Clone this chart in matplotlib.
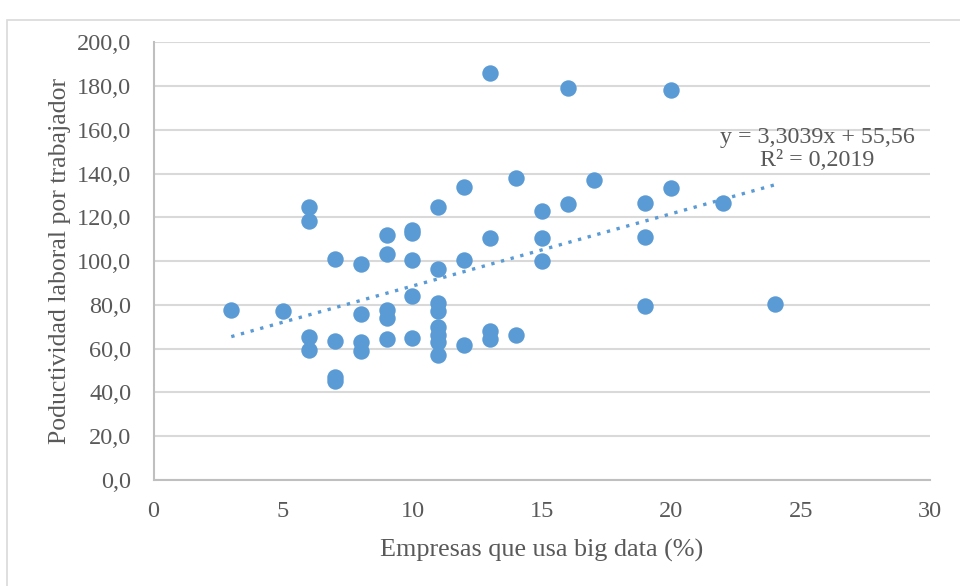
import matplotlib
matplotlib.use("Agg")
import matplotlib.pyplot as plt
from matplotlib.patches import Rectangle
import numpy as np

# Data
big_data_pct = [3, 5,
                6, 6, 6, 6,
                7, 7, 7, 7,
                8, 8, 8, 8,
                9, 9, 9, 9, 9,
                10, 10, 10, 10, 10,
                11, 11, 11, 11, 11, 11, 11, 11,
                12, 12, 12,
                13, 13, 13, 13,
                14, 14,
                15, 15, 15,
                16, 16,
                17,
                19, 19, 19,
                20, 20,
                22,
                24]
productividad = [77.8, 77.0,
                 124.8, 118.2, 65.3, 59.5,
                 101.1, 63.3, 47.2, 45.4,
                 98.7, 75.8, 63.0, 58.9,
                 111.8, 103.4, 77.8, 74.0, 64.5,
                 114.4, 112.9, 100.4, 84.2, 65.0,
                 124.8, 96.4, 80.9, 77.0, 69.8, 66.2, 63.0, 57.2,
                 134.0, 100.4, 61.5,
                 185.8, 110.6, 68.0, 64.3,
                 138.0, 66.4,
                 122.8, 110.6, 99.9,
                 178.9, 125.9,
                 137.0,
                 126.6, 111.1, 79.6,
                 178.2, 133.5,
                 126.3,
                 80.5]

trend_slope = 3.3039
trend_intercept = 55.56
trend_label = "y = 3,3039x + 55,56\nR² = 0,2019"

x_ticks = [0, 5, 10, 15, 20, 25, 30]
y_ticks = [0, 20, 40, 60, 80, 100, 120, 140, 160, 180, 200]
y_tick_labels = ["0,0", "20,0", "40,0", "60,0", "80,0", "100,0", "120,0",
                 "140,0", "160,0", "180,0", "200,0"]

blue = "#5B9BD5"
text_gray = "#595959"
grid_gray = "#D9D9D9"

plt.rcParams['font.family'] = ['Liberation Serif', 'DejaVu Serif']

fig = plt.figure(figsize=(9.6, 5.86), dpi=100)
ax = fig.add_axes([0.160, 0.181, 0.809, 0.747])

# chart border (Excel style)
fig.patches.append(Rectangle((7/960, -0.1), 1.2, 1 - 20/586 + 0.1,
                             transform=fig.transFigure, fill=False,
                             edgecolor=grid_gray, linewidth=1.2))

ax.scatter(big_data_pct, productividad, s=140, color=blue, zorder=3,
           linewidths=0)

xs = np.array([min(big_data_pct), max(big_data_pct)], dtype=float)
ax.plot(xs, trend_slope * xs + trend_intercept, linestyle=(0, (1, 2.0)),
        color=blue, linewidth=2.4, zorder=2)

ax.text(25.65, 141.1, trend_label, ha='center', va='bottom', fontsize=17.3,
        color=text_gray, linespacing=1.15, zorder=4)

ax.set_xlim(0, 30)
ax.set_ylim(0, 200)
ax.set_xticks(x_ticks)
ax.set_xticklabels([str(t) for t in x_ticks])
ax.set_yticks(y_ticks)
ax.set_yticklabels(y_tick_labels)
ax.tick_params(axis='both', length=0, labelsize=17.5, colors=text_gray)
ax.tick_params(axis='x', pad=15)
ax.tick_params(axis='y', pad=16)

ax.grid(axis='y', color=grid_gray, linewidth=1.5, zorder=0)
ax.set_axisbelow(True)
for side in ['top', 'right']:
    ax.spines[side].set_visible(False)
for side in ['left', 'bottom']:
    ax.spines[side].set_color('#BFBFBF')
    ax.spines[side].set_linewidth(1.5)

ax.set_xlabel("Empresas que usa big data (%)", fontsize=18.8, color=text_gray,
              labelpad=12)
ax.set_ylabel("Poductividad laboral por trabajador", fontsize=18.5,
              color=text_gray, labelpad=4)

fig.savefig("out.png", dpi=100)
